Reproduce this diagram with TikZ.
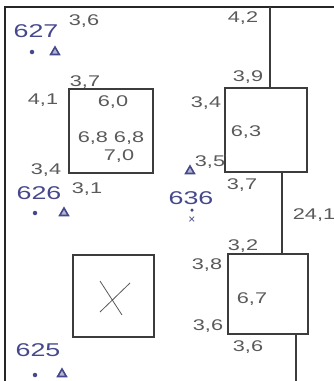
\documentclass[tikz,border=0pt]{standalone}
\usepackage{fontspec}
\setmainfont{Liberation Sans}
\usetikzlibrary{shapes.geometric}
\definecolor{ink}{RGB}{90,90,90}
\definecolor{pen}{RGB}{70,72,140}
\definecolor{frame}{RGB}{60,60,60}
\begin{document}
\begin{tikzpicture}[x=1pt,y=-1pt,
  box/.style={draw=frame,line width=1.3pt,minimum width=#1,minimum height=#1,inner sep=0pt,outer sep=0pt},
  lbl/.style={text=ink,inner sep=0pt,font=\fontsize{15.5}{15.5}\selectfont},
  blue/.style={text=pen,inner sep=0pt,font=\fontsize{18.5}{18.5}\selectfont},
  tri/.style={regular polygon,regular polygon sides=3,draw=pen,fill=pen!40,line width=1.6pt,minimum size=10pt,inner sep=0pt},
  dotm/.style={circle,fill=pen,minimum size=4.5pt,inner sep=0pt},
  wire/.style={draw=frame,line width=1.3pt}]
\useasboundingbox (0,0) rectangle (334,381);
\fill[white] (0,0) rectangle (334,381);
% frame
\coordinate (fl) at (5,381);
\coordinate (fc) at (5,7);
\coordinate (fr) at (334,7);
\draw[wire,draw=black!85] (fl) -- (fc) -- (fr);
% boxes
\node[box=84pt] (b1) at (111,131) {};
\node[box=82pt,minimum height=84pt] (b2) at (266,130) {};
\node[box=80pt] (b3) at (268,294) {};
\node[box=81pt,minimum height=82pt] (bx) at (113.5,296) {};
% cross in empty box
\draw[ink,line width=0.8pt] (100,281) -- (122,315) (130,283) -- (100,312);
% connectors
\coordinate (t1) at (270,7);
\coordinate (m1) at (282,0);
\coordinate (bb) at (296,381);
\draw[wire] (t1) -- (t1 |- b2.north);
\draw[wire] (b2.south -| m1) -- (b3.north -| m1);
\draw[wire] (b3.south -| bb) -- (bb);
% left group
\node[blue] (n627) at (36,31) {\scalebox{1.45}[1]{627}};
\node[lbl] (a1) at (84,21) {\scalebox{1.4}[1]{3,6}};
\node[dotm] (d1) at (32,52) {};
\node[tri] (tr1) at (55,52) {};
\node[lbl] (a2) at (85,82) {\scalebox{1.4}[1]{3,7}};
\node[lbl] (a3) at (43,100) {\scalebox{1.4}[1]{4,1}};
\node[lbl] (a4) at (113,102) {\scalebox{1.4}[1]{6,0}};
\node[lbl] (a5) at (111,138) {\scalebox{1.4}[1]{6,8 6,8}};
\node[lbl] (a6) at (119,156) {\scalebox{1.4}[1]{7,0}};
\node[lbl] (a7) at (46,170) {\scalebox{1.4}[1]{3,4}};
\node[blue] (n626) at (39,193) {\scalebox{1.45}[1]{626}};
\node[lbl] (a8) at (87,189) {\scalebox{1.4}[1]{3,1}};
\node[dotm] (d2) at (35,213) {};
\node[tri] (tr2) at (64,213) {};
\node[blue] (n625) at (38,350) {\scalebox{1.45}[1]{625}};
\node[dotm] (d3) at (35,375) {};
\node[tri] (tr3) at (62,374) {};
% right group
\node[lbl] (c1) at (243,18) {\scalebox{1.4}[1]{4,2}};
\node[lbl] (c2) at (248,77) {\scalebox{1.4}[1]{3,9}};
\node[lbl] (c3) at (206,103) {\scalebox{1.4}[1]{3,4}};
\node[lbl] (c4) at (246,132) {\scalebox{1.4}[1]{6,3}};
\node[lbl] (c5) at (210,162) {\scalebox{1.4}[1]{3,5}};
\draw[ink,line width=0.8pt] (c5.north east) -- (b2.west |- c5.north east);
\node[tri] (tr4) at (190,171) {};
\node[lbl] (c6) at (242,185) {\scalebox{1.4}[1]{3,7}};
\node[blue] (n636) at (191,198) {\scalebox{1.45}[1]{636}};
\node[dotm,minimum size=3.5pt] (d4) at (192,210) {};
\node[text=pen,inner sep=0pt,font=\fontsize{12}{12}\selectfont] (x1) at (192,220) {×};
\node[lbl] (c7) at (314,215) {\scalebox{1.4}[1]{24,1}};
\node[lbl] (c8) at (243,246) {\scalebox{1.4}[1]{3,2}};
\node[lbl] (c9) at (207,265) {\scalebox{1.4}[1]{3,8}};
\node[lbl] (c10) at (252,299) {\scalebox{1.4}[1]{6,7}};
\node[lbl] (c11) at (208,326) {\scalebox{1.4}[1]{3,6}};
\node[lbl] (c12) at (248,347) {\scalebox{1.4}[1]{3,6}};
\end{tikzpicture}
\end{document}
